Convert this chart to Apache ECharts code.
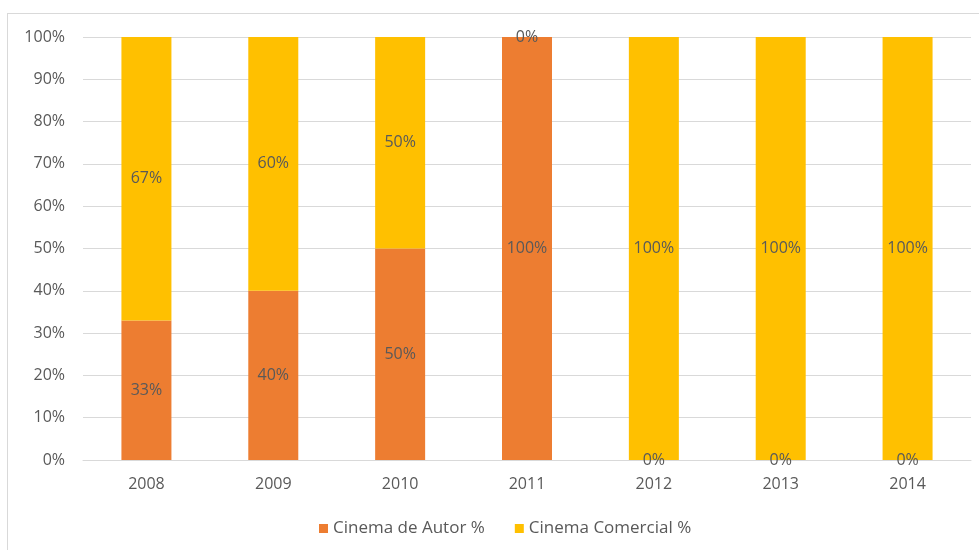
<!DOCTYPE html>
<html>
<head>
<meta charset="utf-8">
<script src="https://cdn.jsdelivr.net/npm/echarts@6/dist/echarts.min.js"></script>
<style>
  html, body { margin: 0; padding: 0; background: #fff; }
  #frame { position: absolute; left: 7px; top: 13px; width: 980px; height: 540px; border: 1px solid #d9d9d9; box-sizing: border-box; }
  #chart { position: absolute; left: 0; top: 0; width: 979px; height: 550px; }
</style>
</head>
<body>
<div id="frame"></div>
<div id="chart"></div>
<script>
// Share of films per year, by type of cinema
const years = ['2008', '2009', '2010', '2011', '2012', '2013', '2014'];
const autorPct = [33, 40, 50, 100, 0, 0, 0];
const comercialPct = [67, 60, 50, 0, 100, 100, 100];
const seriesNames = ['Cinema de Autor %', 'Cinema Comercial %'];

const textColor = '#595959';
const font = 'Open Sans';
const fontSize = 16;

const chart = echarts.init(document.getElementById('chart'), null, { renderer: 'canvas' });

const labelStyle = {
  show: true,
  position: 'inside',
  color: textColor,
  fontFamily: font,
  fontSize: fontSize,
  formatter: p => p.value + '%'
};

chart.setOption({
  animation: false,
  textStyle: { fontFamily: font },
  grid: { left: 83, right: 8, top: 37, bottom: 90, containLabel: false },
  legend: {
    top: 515,
    left: 314,
    itemWidth: 9,
    itemHeight: 9,
    itemGap: 30,
    icon: 'rect',
    textStyle: { color: textColor, fontSize: 17, fontFamily: font },
    data: seriesNames
  },
  xAxis: {
    type: 'category',
    data: years,
    axisLine: { lineStyle: { color: '#d9d9d9', width: 1 } },
    axisTick: { show: false },
    axisLabel: { color: textColor, fontSize: fontSize, margin: 16, fontFamily: font }
  },
  yAxis: {
    type: 'value',
    min: 0,
    max: 100,
    interval: 10,
    axisLine: { show: false },
    axisTick: { show: false },
    splitLine: { lineStyle: { color: '#d9d9d9', width: 1 } },
    axisLabel: { color: textColor, fontSize: fontSize, margin: 18, fontFamily: font, formatter: v => v + '%' }
  },
  series: [
    {
      name: seriesNames[0],
      type: 'bar',
      stack: 'total',
      barWidth: 50,
      data: autorPct,
      itemStyle: { color: '#ED7D31' },
      label: labelStyle
    },
    {
      name: seriesNames[1],
      type: 'bar',
      stack: 'total',
      barWidth: 50,
      data: comercialPct,
      itemStyle: { color: '#FFC000' },
      label: labelStyle
    }
  ]
});
</script>
</body>
</html>
